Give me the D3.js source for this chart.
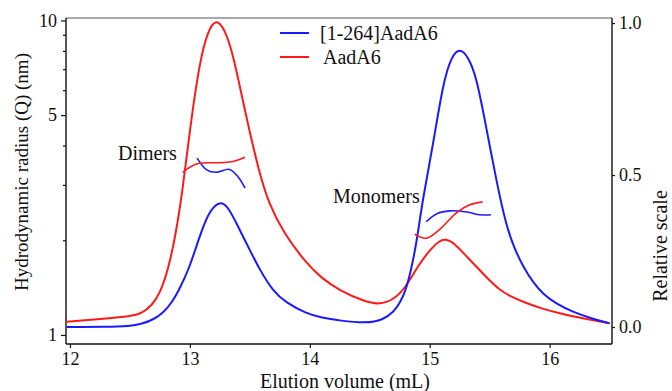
<!DOCTYPE html>
<html>
<head>
<meta charset="utf-8">
<script src="https://cdn.jsdelivr.net/npm/d3@7"></script>
<style>
  html, body { margin: 0; padding: 0; background: #fff; }
  svg { display: block; }
  svg text { font-family: 'Liberation Serif', 'Times New Roman', Times, 'DejaVu Serif', serif; fill: #111; }
</style>
</head>
<body>
<svg id="chart" width="672" height="391"></svg>
<script>
// Elution profiles (relative scale, right axis)
const blueX = [11.97, 12.3, 12.5, 12.6, 12.7, 12.78, 12.85, 12.92, 12.99, 13.05, 13.11, 13.17, 13.25, 13.32, 13.39, 13.5, 13.58, 13.69, 13.8, 13.97, 14.1, 14.25, 14.47, 14.61, 14.7, 14.75, 14.8, 14.84, 14.89, 14.94, 15.03, 15.11, 15.18, 15.25, 15.32, 15.39, 15.47, 15.56, 15.64, 15.71, 15.78, 15.86, 15.94, 16.06, 16.19, 16.35, 16.5];
const blueRel = [0.0, 0.0, 0.003, 0.01, 0.025, 0.048, 0.08, 0.13, 0.19, 0.26, 0.33, 0.385, 0.415, 0.395, 0.34, 0.253, 0.19, 0.12, 0.08, 0.045, 0.03, 0.021, 0.012, 0.023, 0.05, 0.078, 0.12, 0.18, 0.275, 0.418, 0.604, 0.80, 0.89, 0.918, 0.89, 0.823, 0.659, 0.473, 0.33, 0.255, 0.198, 0.148, 0.11, 0.075, 0.05, 0.028, 0.012];
const redX = [11.97, 12.3, 12.5, 12.6, 12.68, 12.75, 12.82, 12.88, 12.94, 13.0, 13.08, 13.15, 13.22, 13.29, 13.36, 13.47, 13.58, 13.66, 13.78, 13.97, 14.1, 14.25, 14.45, 14.58, 14.7, 14.8, 14.9, 15.0, 15.08, 15.13, 15.2, 15.31, 15.47, 15.58, 15.69, 15.81, 15.94, 16.08, 16.3, 16.5];
const redRel = [0.017, 0.028, 0.035, 0.045, 0.07, 0.11, 0.19, 0.3, 0.45, 0.65, 0.87, 0.975, 1.015, 0.98, 0.90, 0.69, 0.505, 0.405, 0.31, 0.21, 0.16, 0.12, 0.085, 0.073, 0.09, 0.13, 0.2, 0.253, 0.284, 0.29, 0.278, 0.231, 0.165, 0.122, 0.097, 0.078, 0.06, 0.045, 0.027, 0.012];

// Hydrodynamic radius fragments (nm, left log axis)
const dimerRedX = [12.94, 13.06, 13.25, 13.36, 13.46];
const dimerRedR = [3.29, 3.50, 3.53, 3.56, 3.67];
const dimerBlueX = [13.06, 13.14, 13.22, 13.33, 13.40, 13.46];
const dimerBlueR = [3.65, 3.35, 3.29, 3.36, 3.19, 2.93];
const monoBlueX = [14.97, 15.06, 15.17, 15.31, 15.42, 15.51];
const monoBlueR = [2.29, 2.43, 2.48, 2.46, 2.41, 2.41];
const monoRedX = [14.875, 14.97, 15.08, 15.22, 15.33, 15.44];
const monoRedR = [2.09, 2.03, 2.16, 2.44, 2.59, 2.65];

// Ticks / labels
const xTicks = [12, 13, 14, 15, 16];
const leftMajor = [1, 5, 10];
const leftMinor = [2, 3, 4, 6, 7, 8, 9];
const rightTicks = [0.0, 0.5, 1.0];
const seriesNames = ["[1-264]AadA6", "AadA6"];
const seriesColors = ["#1a1aff", "#ff1a1a"];

const FONT = "'Liberation Serif', 'Times New Roman', Times, 'DejaVu Serif', serif";
const svg = d3.select("#chart").attr("font-family", FONT);
const L = 66, R = 612, T = 18, B = 344;

const x = d3.scaleLinear().domain([11.967, 16.52]).range([L, R]);
const yL = d3.scaleLog().domain([0.936, 10.18]).range([B, T]);
const yR = d3.scaleLinear().domain([-0.0559, 1.0167]).range([B, T]);

const zip = (a, b) => a.map((v, i) => [v, b[i]]);

// Frame top
svg.append("line").attr("x1", L).attr("x2", R).attr("y1", T).attr("y2", T).attr("stroke", "#555").attr("stroke-width", 1.2);

// Axes
const fs = 18;
const gB = svg.append("g").attr("transform", `translate(0,${B})`)
  .call(d3.axisBottom(x).tickValues(xTicks).tickSize(4).tickPadding(4).tickSizeOuter(0).tickFormat(d3.format("d")));
const gL = svg.append("g").attr("transform", `translate(${L},0)`)
  .call(d3.axisLeft(yL).tickValues(leftMajor).tickSize(5).tickPadding(4).tickSizeOuter(0).tickFormat(d3.format("d")));
const gLm = svg.append("g").attr("transform", `translate(${L},0)`)
  .call(d3.axisLeft(yL).tickValues(leftMinor).tickSize(3).tickSizeOuter(0).tickFormat(""));
gLm.select(".domain").remove();
const gR = svg.append("g").attr("transform", `translate(${R},0)`)
  .call(d3.axisRight(yR).tickValues(rightTicks).tickSize(3).tickPadding(4).tickSizeOuter(0).tickFormat(d3.format(".1f")));

[gB, gL, gLm, gR].forEach(g => {
  g.attr("font-family", FONT);
  g.selectAll("text").attr("font-size", fs).attr("fill", "#111");
  g.selectAll("line").attr("stroke", "#111").attr("stroke-width", 1.2);
  g.selectAll(".domain").attr("stroke", "#111").attr("stroke-width", 1.4);
});
gL.select(".domain").attr("d", `M0,${T}V${B}`);
gR.select(".domain").attr("d", `M0,${T}V${B}`);
gB.select(".domain").attr("d", `M${L},0H${R}`);

// Lines
const lineRel = d3.line().x(d => x(d[0])).y(d => yR(d[1])).curve(d3.curveBasis);
const lineRad = d3.line().x(d => x(d[0])).y(d => yL(d[1])).curve(d3.curveCatmullRom.alpha(0.5));

svg.append("path").datum(zip(redX, redRel)).attr("d", lineRel)
  .attr("fill", "none").attr("stroke", seriesColors[1]).attr("stroke-width", 2);
svg.append("path").datum(zip(blueX, blueRel)).attr("d", lineRel)
  .attr("fill", "none").attr("stroke", seriesColors[0]).attr("stroke-width", 2);

[[dimerBlueX, dimerBlueR, 0], [dimerRedX, dimerRedR, 1], [monoBlueX, monoBlueR, 0], [monoRedX, monoRedR, 1]].forEach(([xs, rs, c]) => {
  svg.append("path").datum(zip(xs, rs)).attr("d", lineRad)
    .attr("fill", "none").attr("stroke", seriesColors[c]).attr("stroke-width", 1.6);
});

// Annotations
svg.append("text").attr("x", 118).attr("y", 160).attr("font-size", 20).text("Dimers");
svg.append("text").attr("x", 333).attr("y", 203).attr("font-size", 20).text("Monomers");

// Legend
const legY = [33, 57];
seriesNames.forEach((n, i) => {
  svg.append("line").attr("x1", 280).attr("x2", 309).attr("y1", legY[i]).attr("y2", legY[i])
    .attr("stroke", seriesColors[i]).attr("stroke-width", 2);
  svg.append("text").attr("x", i === 0 ? 320 : 323).attr("y", legY[i]).attr("dy", "0.35em")
    .attr("font-size", 20).text(n);
});

// Axis titles
svg.append("text").attr("x", 345).attr("y", 388).attr("text-anchor", "middle").attr("font-size", 20).text("Elution volume (mL)");
svg.append("text").attr("transform", "translate(28,172) rotate(-90)").attr("text-anchor", "middle").attr("font-size", 19).text("Hydrodynamic radius (Q) (nm)");
svg.append("text").attr("transform", "translate(667,246) rotate(-90)").attr("text-anchor", "middle").attr("font-size", 20).text("Relative scale");
</script>
</body>
</html>
